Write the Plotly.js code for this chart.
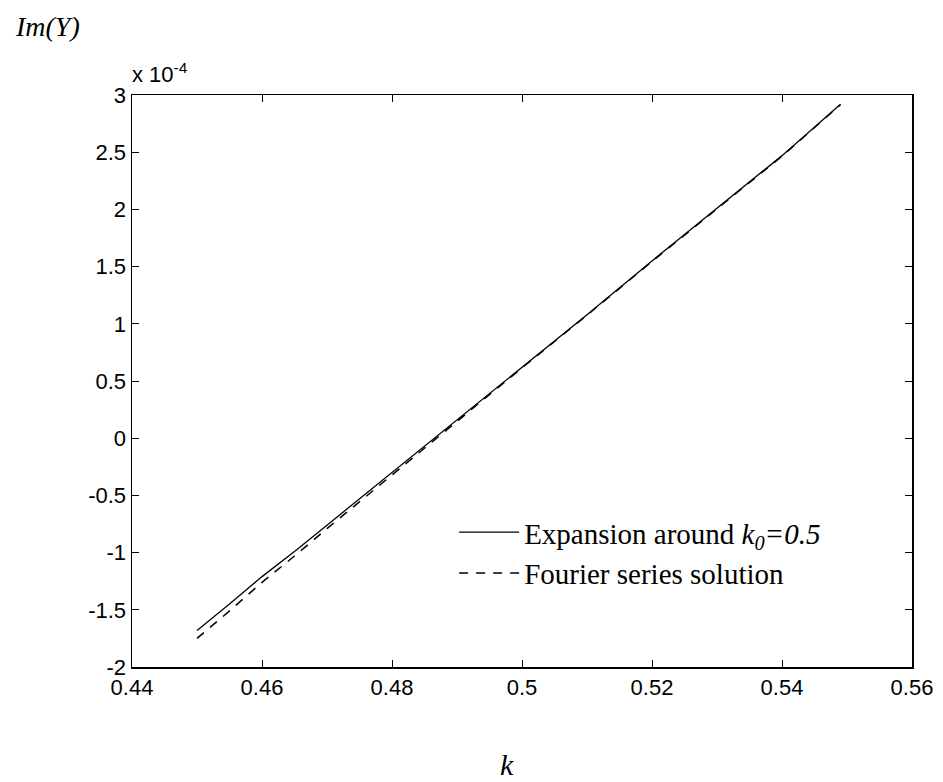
<!DOCTYPE html>
<html>
<head>
<meta charset="utf-8">
<script src="https://cdn.plot.ly/plotly-3.0.1.min.js"></script>
<style>body{margin:0;background:#fff;} #chart{width:943px;height:782px;}</style>
</head>
<body>
<div id="chart"></div>
<script>
// k values
const kVals = [0.450, 0.455, 0.460, 0.465, 0.470, 0.475, 0.480, 0.485, 0.490, 0.495, 0.500, 0.510, 0.520, 0.530, 0.540, 0.549];
// Im(Y) in units of 1e-4
const expansionVals = [-1.68, -1.45, -1.21, -0.99, -0.76, -0.53, -0.30, -0.07, 0.16, 0.39, 0.62, 1.08, 1.55, 2.01, 2.47, 2.92];
const fourierVals   = [-1.75, -1.51, -1.26, -1.03, -0.79, -0.555, -0.32, -0.085, 0.15, 0.385, 0.615, 1.075, 1.545, 2.005, 2.465, 2.915];
const xTicks = [0.44, 0.46, 0.48, 0.5, 0.52, 0.54, 0.56];
const xTickText = ["0.44", "0.46", "0.48", "0.5", "0.52", "0.54", "0.56"];
const yTicks = [-2, -1.5, -1, -0.5, 0, 0.5, 1, 1.5, 2, 2.5, 3];
const yTickText = ["-2", "-1.5", "-1", "-0.5", "0", "0.5", "1", "1.5", "2", "2.5", "3"];
const seriesNames = ["Expansion around <i>k<sub>0</sub>=0.5</i>", "Fourier series solution"];

const traces = [
  {x: kVals, y: expansionVals, mode: 'lines', name: seriesNames[0],
   line: {color: '#000', width: 1.3, dash: 'solid'}},
  {x: kVals, y: fourierVals, mode: 'lines', name: seriesNames[1],
   line: {color: '#000', width: 1.5, dash: '9px,8px'}}
];

const tickFont = {family: 'Liberation Sans, Arial, sans-serif', size: 22, color: '#000'};
const serif = 'Liberation Serif, Times New Roman, serif';
const layout = {
  width: 943, height: 782,
  margin: {l: 132, r: 31, t: 95, b: 115},
  paper_bgcolor: '#fff', plot_bgcolor: '#fff',
  showlegend: true,
  legend: {x: 0.413, y: 0.28, xanchor: 'left', yanchor: 'top', bgcolor: 'rgba(0,0,0,0)',
           font: {family: serif, size: 29, color: '#000'},
           tracegroupgap: 0, itemwidth: 60},
  xaxis: {range: [0.44, 0.56], tickvals: xTicks, ticktext: xTickText, ticks: 'inside', ticklen: 7,
          tickcolor: '#000', showline: true, linecolor: '#000', linewidth: 1.5, mirror: 'ticks',
          showgrid: false, zeroline: false, tickfont: tickFont},
  yaxis: {range: [-2, 3], tickvals: yTicks, ticktext: yTickText, ticks: 'inside', ticklen: 7,
          tickcolor: '#000', showline: true, linecolor: '#000', linewidth: 1.5, mirror: 'ticks',
          showgrid: false, zeroline: false, tickfont: tickFont},
  annotations: [
    {text: '<i>Im(Y)</i>', xref: 'paper', yref: 'paper', x: -0.153, y: 1.119, xanchor: 'left', yanchor: 'middle',
     showarrow: false, font: {family: serif, size: 28, color: '#000'}},
    {text: 'x 10<sup>-4</sup>', xref: 'paper', yref: 'paper', x: -0.002, y: 1.01, xanchor: 'left', yanchor: 'bottom',
     showarrow: false, font: tickFont},
    {text: '<i>k</i>', xref: 'paper', yref: 'paper', x: 0.481, y: -0.171, xanchor: 'center', yanchor: 'middle',
     showarrow: false, font: {family: serif, size: 30, color: '#000'}}
  ]
};
Plotly.newPlot('chart', traces, layout, {displayModeBar: false, staticPlot: true});
</script>
</body>
</html>
